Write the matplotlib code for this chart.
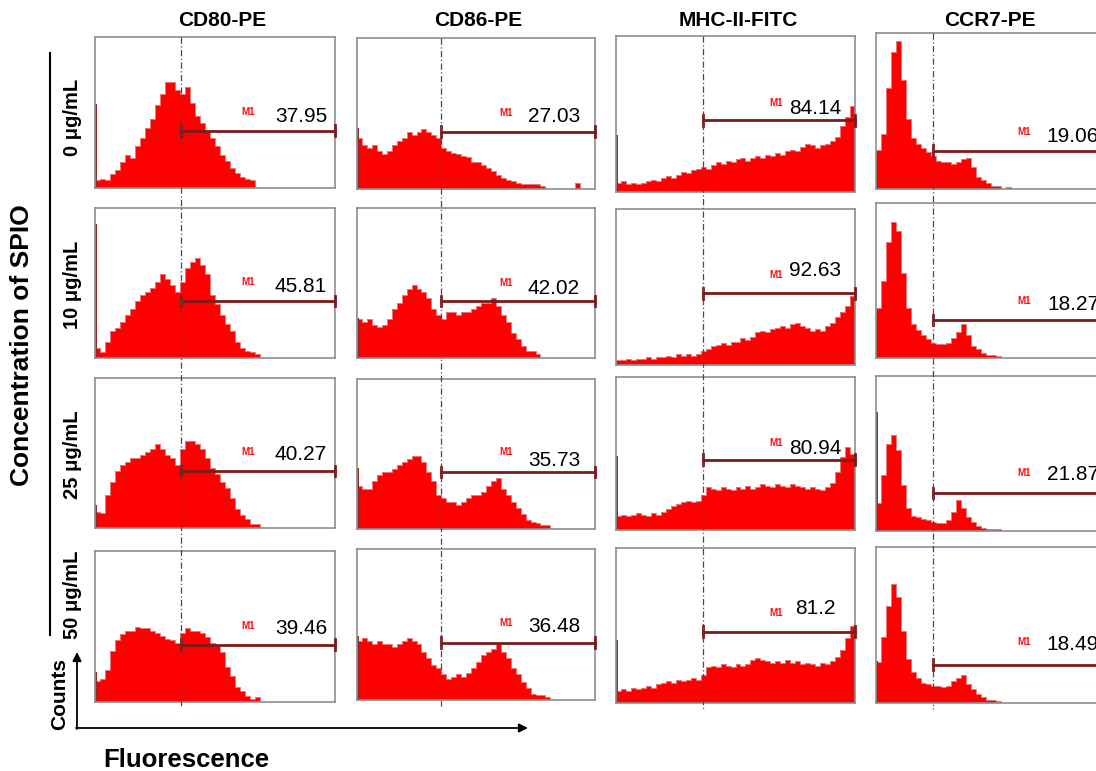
import numpy as np
import matplotlib
matplotlib.use("Agg")
import matplotlib.pyplot as plt

plt.rcParams["font.family"] = ["Liberation Sans", "DejaVu Sans"]

W, H = 1096, 771
NBINS = 48

# ---- data ------------------------------------------------------------------
markers = ["CD80-PE", "CD86-PE", "MHC-II-FITC", "CCR7-PE"]
doses = ["0 μg/mL", "10 μg/mL", "25 μg/mL", "50 μg/mL"]

# % positive in gate M1, [marker][dose]
m1_pct = [
    [37.95, 45.81, 40.27, 39.46],
    [27.03, 42.02, 35.73, 36.48],
    [84.14, 92.63, 80.94, 81.2],
    [19.06, 18.27, 21.87, 18.49],
]
# channel (of 48) where the M1 gate starts, per marker
m1_start = [17.2, 16.9, 17.5, 11.4]

# histogram heights, % of full scale, 48 channels, [dose]
cd80 = [
    [5, 6, 5, 9, 12, 17, 22, 20, 28, 33, 40, 46, 55, 62, 70, 70, 65, 62, 67, 56, 48, 43, 38, 33,
     28, 22, 18, 13, 10, 7, 6, 5],
    [7, 4, 11, 18, 20, 24, 29, 33, 38, 42, 44, 47, 51, 56, 53, 49, 44, 51, 60, 64, 67, 62, 56, 42,
     36, 29, 23, 18, 11, 7, 5, 4, 3],
    [11, 10, 22, 31, 38, 42, 44, 47, 47, 49, 51, 53, 56, 53, 49, 47, 42, 53, 58, 58, 56, 53, 47, 40,
     36, 31, 27, 20, 13, 9, 6, 3, 3],
    [14, 15, 21, 34, 41, 45, 47, 47, 50, 49, 49, 47, 46, 44, 42, 41, 39, 46, 49, 47, 47, 46, 43, 39,
     37, 33, 23, 17, 10, 7, 4, 2, 3],
]
cd86 = [
    [34, 29, 27, 29, 25, 23, 25, 29, 32, 34, 38, 36, 38, 40, 38, 36, 34, 27, 25, 24, 23, 22, 21, 18,
     18, 16, 14, 12, 9, 7, 6, 5, 4, 3, 3, 3, 3, 2, 0, 0, 0, 0, 0, 0, 4],
    [26, 24, 26, 22, 21, 22, 26, 33, 37, 42, 46, 49, 46, 44, 40, 33, 29, 26, 31, 31, 29, 31, 31, 33,
     35, 37, 37, 40, 35, 29, 24, 17, 13, 8, 5, 5, 3],
    [29, 27, 27, 32, 36, 38, 38, 40, 43, 45, 47, 49, 49, 45, 38, 32, 23, 21, 18, 18, 16, 18, 21, 23,
     23, 25, 29, 32, 34, 27, 23, 18, 14, 10, 6, 5, 4, 3, 3],
    [39, 41, 39, 37, 39, 37, 37, 35, 37, 39, 41, 39, 37, 32, 28, 23, 21, 17, 14, 15, 17, 15, 18, 21,
     25, 30, 32, 34, 37, 32, 28, 21, 17, 12, 8, 4, 3, 3, 2],
]
mhc = [
    [6, 7, 5, 6, 5, 6, 7, 8, 7, 9, 10, 9, 11, 13, 12, 14, 15, 16, 15, 17, 19, 18, 20, 19,
     21, 22, 20, 22, 23, 22, 24, 23, 25, 24, 26, 27, 26, 29, 31, 30, 28, 30, 31, 33, 35, 42, 48, 55],
    [3, 3, 4, 3, 4, 4, 5, 4, 5, 5, 6, 5, 7, 6, 7, 6, 7, 9, 10, 12, 13, 14, 13, 15,
     15, 17, 16, 18, 21, 22, 21, 23, 24, 25, 24, 26, 27, 25, 24, 22, 23, 22, 25, 27, 31, 34, 38, 44],
    [9, 10, 9, 10, 11, 10, 9, 11, 10, 12, 14, 16, 17, 18, 19, 18, 19, 23, 28, 27, 26, 28, 27, 26,
     28, 27, 29, 27, 28, 30, 29, 28, 30, 29, 28, 30, 29, 28, 27, 28, 27, 26, 28, 31, 38, 48, 54, 50],
    [8, 9, 8, 10, 9, 10, 11, 10, 12, 13, 14, 13, 15, 14, 15, 16, 15, 18, 23, 24, 23, 25, 24, 23,
     25, 24, 25, 28, 29, 28, 27, 26, 27, 26, 28, 26, 27, 25, 26, 25, 24, 26, 25, 27, 30, 34, 42, 50],
]
ccr7 = [
    [25, 35, 65, 88, 95, 70, 45, 33, 29, 26, 24, 21, 18, 17, 17, 16, 17, 19, 20, 14, 8, 6, 4, 2,
     2, 0, 1],
    [32, 50, 75, 88, 82, 55, 32, 22, 18, 15, 12, 10, 9, 9, 10, 13, 17, 22, 15, 8, 6, 3, 2, 2, 1],
    [18, 36, 56, 62, 52, 30, 15, 10, 9, 8, 7, 6, 5, 5, 7, 12, 20, 15, 9, 6, 3, 2, 1, 1, 1],
    [26, 42, 62, 76, 68, 46, 28, 20, 16, 13, 12, 11, 11, 10, 11, 14, 16, 18, 12, 9, 6, 4, 2, 2, 1],
]
histograms = [cd80, cd86, mhc, ccr7]

# events piled up in channel 0 (drawn as a spike on the left frame)
edge_spike = [
    [55, 89, 15, 19],
    [40, 26, 40, 42],
    [36, 0, 48, 40],
    [22, 28, 76, 26],
]

# ---- layout (pixels of the 1096x771 canvas) --------------------------------
col_x = [(95, 335), (357, 595), (616, 855), (876, 1116)]
row_y = [
    [(37, 188), (208, 358), (378, 528), (551, 702)],
    [(38, 189), (208, 358), (379, 529), (549, 700)],
    [(36, 192), (209, 365), (377, 530), (548, 703)],
    [(33, 189), (203, 358), (376, 531), (547, 703)],
]
gate_y = [38, 38, 46, 24.5]           # % of panel height
num_x = [301, 554, 815, 1073]
num_y = [[117, 287, 455, 628], [116, 288, 460, 626], [109, 271, 448, 608], [137, 304, 474, 645]]
m1_x = [248, 506, 776, 1024]
m1_y = [[112, 282, 452, 626], [113, 283, 452, 623], [103, 275, 443, 613], [132, 301, 473, 642]]
title_x = [222, 478, 738, 990]

FILL = "#ff0000"
GATE = "#7a1c1c"
FRAME = "#8e8e8e"

fig = plt.figure(figsize=(W / 100, H / 100), dpi=100)
edges = np.arange(NBINS + 1)

for c in range(4):
    x0, x1 = col_x[c]
    for r in range(4):
        y0, y1 = row_y[c][r]
        ax = fig.add_axes([x0 / W, 1 - y1 / H, (x1 - x0) / W, (y1 - y0) / H])
        vals = np.zeros(NBINS)
        h = histograms[c][r]
        vals[:len(h)] = h
        ax.stairs(vals, edges, fill=True, color=FILL, lw=0)
        ax.stairs(vals, edges, color="#e77a7a", lw=0.7)
        if edge_spike[c][r]:
            ax.plot([0.12, 0.12], [0, edge_spike[c][r]], color="#8b2a2a", lw=1.4)
        g0 = m1_start[c]
        gy = gate_y[c]
        dy = 3.4
        ax.plot([g0, NBINS], [gy, gy], color=GATE, lw=2, clip_on=False, zorder=5)
        ax.plot([g0, g0], [gy - dy, gy + dy], color=GATE, lw=2, clip_on=False, zorder=5)
        ax.plot([NBINS, NBINS], [gy - dy, gy + dy], color=GATE, lw=2, clip_on=False, zorder=5)
        ax.set_xlim(0, NBINS)
        ax.set_ylim(0, 100)
        ax.set_xticks([])
        ax.set_yticks([])
        for s in ax.spines.values():
            s.set_color(FRAME)
            s.set_linewidth(1.2)

# overlay in pixel coordinates for annotations
ov = fig.add_axes([0, 0, 1, 1], zorder=10)
ov.set_xlim(0, W)
ov.set_ylim(H, 0)
ov.axis("off")
ov.patch.set_alpha(0)

for c in range(4):
    x0, x1 = col_x[c]
    fx = x0 + m1_start[c] / NBINS * (x1 - x0)
    ov.plot([fx, fx], [row_y[c][0][0], row_y[c][3][1] + 6], color="#4a4a4a", lw=0.9,
            ls=(0, (5, 2, 1, 2)))
    ov.text(title_x[c], 21, markers[c], ha="center", va="center", fontsize=15,
            fontweight="bold")
    for r in range(4):
        ov.text(num_x[c], num_y[c][r], str(m1_pct[c][r]), ha="center", va="center",
                fontsize=15)
        ov.text(m1_x[c], m1_y[c][r], "M1", ha="center", va="center", fontsize=7,
                fontweight="bold", color="#ff1010")

label_y = [117, 285, 455, 595]
for r in range(4):
    ov.text(73, label_y[r], doses[r], rotation=90, ha="center", va="center",
            fontsize=14.5, fontweight="bold")

ov.plot([50, 50], [53, 635], color="black", lw=1.5)
ov.text(22, 345, "Concentration of SPIO", rotation=90, ha="center", va="center",
        fontsize=19, fontweight="bold")

ov.annotate("", xy=(77, 652), xytext=(77, 729),
            arrowprops=dict(arrowstyle="-|>", color="black", lw=1.3, mutation_scale=13,
                            shrinkA=0, shrinkB=0))
ov.annotate("", xy=(528, 728), xytext=(76, 728),
            arrowprops=dict(arrowstyle="-|>", color="black", lw=1.3, mutation_scale=13,
                            shrinkA=0, shrinkB=0))
ov.text(60, 694, "Counts", rotation=90, ha="center", va="center", fontsize=15,
        fontweight="bold")
ov.text(186, 760, "Fluorescence", ha="center", va="center", fontsize=18.5,
        fontweight="bold")

fig.savefig("out.png", dpi=100)
